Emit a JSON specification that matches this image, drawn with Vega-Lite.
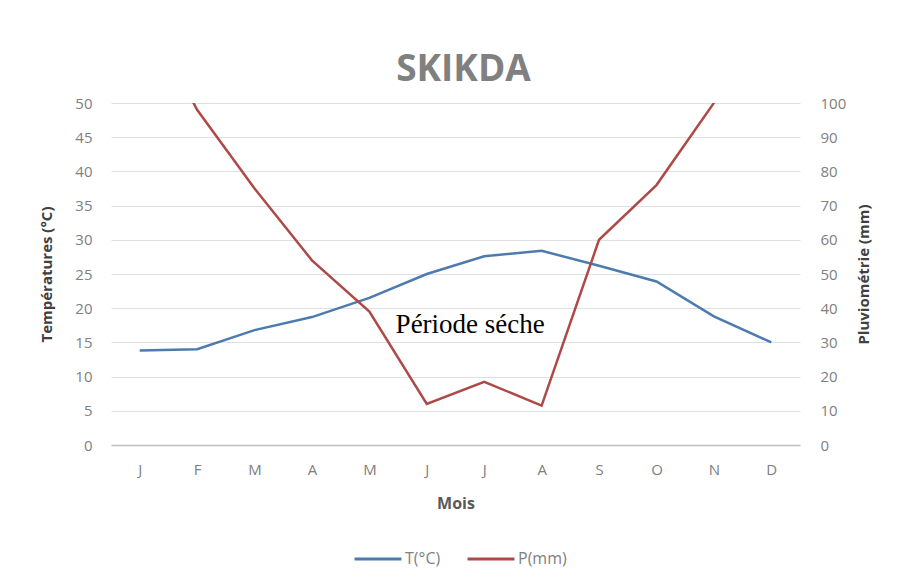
{
  "$schema": "https://vega.github.io/schema/vega-lite/v6.json",
  "width": 689,
  "height": 342,
  "autosize": "none",
  "padding": {"left": 111, "top": 103, "right": 99, "bottom": 135},
  "background": "white",
  "title": {"text": "SKIKDA", "fontSize": 37, "font": "Open Sans", "fontWeight": "bold", "color": "#808080", "offset": 7, "dx": 8, "limit": 0},
  "data": {
    "values": [
      {"mois": "Janvier", "T": 13.8, "P": 130},
      {"mois": "Février", "T": 14.0, "P": 98},
      {"mois": "Mars", "T": 16.8, "P": 75},
      {"mois": "Avril", "T": 18.7, "P": 54},
      {"mois": "Mai", "T": 21.5, "P": 39},
      {"mois": "Juin", "T": 25.0, "P": 12},
      {"mois": "Juillet", "T": 27.6, "P": 18.5},
      {"mois": "Août", "T": 28.4, "P": 11.5},
      {"mois": "Septembre", "T": 26.2, "P": 60},
      {"mois": "Octobre", "T": 23.9, "P": 76},
      {"mois": "Novembre", "T": 18.8, "P": 100},
      {"mois": "Décembre", "T": 15.0, "P": 140}
    ]
  },
  "encoding": {
    "x": {
      "field": "mois",
      "type": "ordinal",
      "sort": null,
      "axis": {
        "title": "Mois",
        "labelExpr": "substring(datum.label, 0, 1)",
        "labelAngle": 0,
        "ticks": false,
        "domainColor": "#bfbfbf",
        "domainWidth": 1.5,
        "labelColor": "#808080",
        "labelFontSize": 15,
        "labelFont": "Open Sans",
        "labelPadding": 17,
        "titleFont": "Open Sans",
        "titleFontSize": 16,
        "titleFontWeight": "bold",
        "titleColor": "#595959",
        "titlePadding": 18
      }
    }
  },
  "layer": [
    {
      "encoding": {
        "y": {
          "field": "T",
          "type": "quantitative",
          "scale": {"domain": [0, 50], "nice": false},
          "axis": {
            "title": "Températures (°C)",
            "values": [0, 5, 10, 15, 20, 25, 30, 35, 40, 45, 50],
            "grid": true,
            "gridColor": "#e0e0e0",
            "gridWidth": 1.2,
            "domain": false,
            "ticks": false,
            "labelColor": "#808080",
            "labelFontSize": 15,
            "labelFont": "Open Sans",
            "labelPadding": 19,
            "titleFont": "Open Sans",
            "titleFontSize": 15,
            "titleFontWeight": "bold",
            "titleColor": "#404040",
            "titlePadding": 20
          }
        }
      },
      "layer": [
        {
          "mark": {"type": "line", "strokeWidth": 2.5, "clip": true},
          "encoding": {
            "color": {
              "datum": "T(°C)",
              "type": "nominal",
              "scale": {"domain": ["T(°C)", "P(mm)"], "range": ["#4d7bb0", "#ad4a48"]},
              "legend": {
                "orient": "none",
                "legendX": 242,
                "legendY": 431,
                "direction": "horizontal",
                "title": null,
                "symbolType": "stroke",
                "symbolSize": 2200,
                "symbolStrokeWidth": 3,
                "labelFont": "Open Sans",
                "labelFontSize": 16,
                "labelColor": "#808080",
                "columnPadding": 20,
                "labelOffset": 2
              }
            }
          }
        },
        {
          "data": {"values": [{"mois": "Juillet", "T": 16.4, "label": "Période séche"}]},
          "mark": {"type": "text", "font": "Liberation Serif", "fontSize": 27, "color": "#000000", "align": "center", "baseline": "alphabetic", "dx": -14},
          "encoding": {
            "text": {"field": "label"}
          }
        }
      ]
    },
    {
      "mark": {"type": "line", "strokeWidth": 2.5, "clip": true},
      "encoding": {
        "y": {
          "field": "P",
          "type": "quantitative",
          "scale": {"domain": [0, 100], "nice": false},
          "axis": {
            "orient": "right",
            "title": "Pluviométrie (mm)",
            "titleAngle": 270,
            "values": [0, 10, 20, 30, 40, 50, 60, 70, 80, 90, 100],
            "grid": false,
            "domain": false,
            "ticks": false,
            "labelColor": "#808080",
            "labelFontSize": 15,
            "labelFont": "Open Sans",
            "labelPadding": 20,
            "titleFont": "Open Sans",
            "titleFontSize": 15,
            "titleFontWeight": "bold",
            "titleColor": "#404040",
            "titlePadding": 26
          }
        },
        "color": {"datum": "P(mm)", "type": "nominal"}
      }
    }
  ],
  "resolve": {"scale": {"y": "independent"}},
  "config": {"view": {"stroke": null}}
}
